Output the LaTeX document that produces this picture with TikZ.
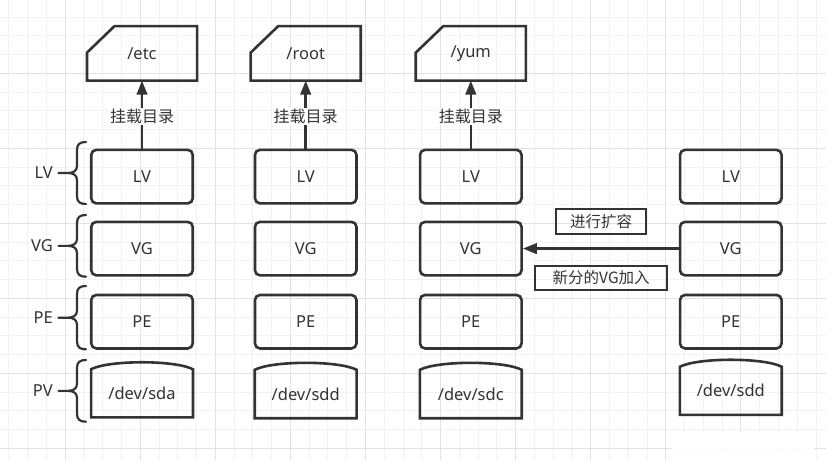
\documentclass[tikz,border=0pt]{standalone}
\usepackage{fontspec}
\setmainfont{Noto Sans}
\newfontfamily\cjk{Noto Sans CJK SC}
\usetikzlibrary{arrows.meta}
\definecolor{ink}{HTML}{333333}
\definecolor{gridminor}{HTML}{F2F2F2}
\definecolor{gridmajor}{HTML}{E2E2E2}
\tikzset{
  box/.style={draw=ink, line width=2.6pt, rounded corners=5pt, minimum width=101.5pt, minimum height=53.5pt, inner sep=0pt, text=ink, font=\fontsize{16.5}{18}\selectfont},
  ghost/.style={draw=none, minimum width=101.5pt, inner sep=0pt, text=ink, font=\fontsize{16.5}{18}\selectfont},
  cardshape/.style={draw=ink, line width=2.6pt, line join=miter},
  arr/.style={draw=ink, line width=2.5pt, -{Triangle[length=14pt,width=10.5pt]}},
  mountlbl/.style={fill=white, text=ink, inner sep=1pt, font=\cjk\fontsize{16}{18}\selectfont},
  tagbox/.style={draw=ink, line width=2pt, inner sep=0pt, text=ink, font=\cjk\fontsize{15.5}{18}\selectfont},
  sidelbl/.style={text=ink, anchor=east, inner sep=0pt, font=\fontsize{16.5}{18}\selectfont},
  bracestyle/.style={draw=ink, line width=2.2pt, line cap=round}
}
\begin{document}
\begin{tikzpicture}[x=1pt,y=-1pt]
\useasboundingbox (0,0) rectangle (826,460);
\fill[white] (0,0) rectangle (826,460);
% grid
\foreach \i in {0,...,44} {\draw[gridminor, line width=1pt] (8.9+\i*18.77,0) -- (8.9+\i*18.77,460);}
\foreach \i in {0,...,24} {\draw[gridminor, line width=1pt] (0,-1.7+\i*18.75) -- (826,-1.7+\i*18.75);}
\foreach \i in {0,...,10} {\draw[gridmajor, line width=1pt] (-9.9+\i*75.07,0) -- (-9.9+\i*75.07,460);}
\foreach \i in {0,...,6} {\draw[gridmajor, line width=1pt] (0,-1.7+\i*75) -- (826,-1.7+\i*75);}
% watermark patch
\fill[white, opacity=0.9] (672,432) rectangle (814,460);

% boxes
\foreach \c/\x in {1/142, 2/305.7, 3/470.8, 4/730.8} {
  \node[box] (lv\c) at (\x,176.6) {LV};
  \node[box] (vg\c) at (\x,248.6) {VG};
  \node[box] (pe\c) at (\x,321.7) {PE};
}

% PV shapes (named nodes + outline)
\node[ghost, minimum height=47.7pt] (pv1) at (142,393.3) {/dev/sda};
\node[ghost, minimum height=48pt] (pv2) at (305.7,394) {/dev/sdd};
\node[ghost, minimum height=48pt] (pv3) at (470.8,394) {/dev/sdc};
\node[ghost, minimum height=47.7pt] (pv4) at (730.8,390.8) {/dev/sdd};
\foreach \n in {pv1,pv2,pv3,pv4} {
  \draw[cardshape] (\n.north west) .. controls ([xshift=18pt,yshift=9.3pt]\n.north west) and ([xshift=-18pt,yshift=9.3pt]\n.north east) .. (\n.north east) -- (\n.south east) -- (\n.south west) -- cycle;
}

% cards
\foreach \c/\x/\t in {1/142/{/etc}, 2/305.7/{/root}, 3/470.8/{/yum}} {
  \node[ghost, minimum width=109.7pt, minimum height=54.1pt] (card\c) at (\x,53.4) {\t};
  \draw[cardshape] ([yshift=-26.5pt]card\c.north west) -- ([xshift=27.5pt]card\c.north west) -- (card\c.north east) -- (card\c.south east) -- (card\c.south west) -- cycle;
}

% mount arrows
\foreach \c in {1,2,3} {
  \draw[arr] (lv\c.north) -- node[mountlbl, pos=0.47] {挂载目录} (card\c.south);
}

% expansion arrow
\draw[arr] (vg4.west) -- (vg3.east);
\node[tagbox, minimum width=90.3pt, minimum height=24.7pt] (tag1) at (601.2,221.7) {进行扩容};
\node[tagbox, minimum width=132.3pt, minimum height=23.7pt] (tag2) at (601.2,277.8) {新分的VG加入};

% braces and side labels
\foreach \n/\t/\b/\m in {lbllv/LV/142/204, lblvg/VG/215/276.7, lblpe/PE/286/349.3, lblpv/PV/360/421.7} {
  \pgfmathsetmacro{\mid}{(\b+\m)/2}
  \draw[bracestyle] (86,\b) .. controls (80,\b) and (77,\b+2) .. (77,\b+8)
     -- (77,\mid-7) .. controls (77,\mid-2) and (73,\mid) .. (68,\mid) -- (58.5,\mid)
     (68,\mid) .. controls (73,\mid) and (77,\mid+2) .. (77,\mid+7)
     -- (77,\m-8) .. controls (77,\m-2) and (80,\m) .. (86,\m);
  \node[sidelbl] (\n) at (53,\mid) {\t};
}
\end{tikzpicture}
\end{document}
